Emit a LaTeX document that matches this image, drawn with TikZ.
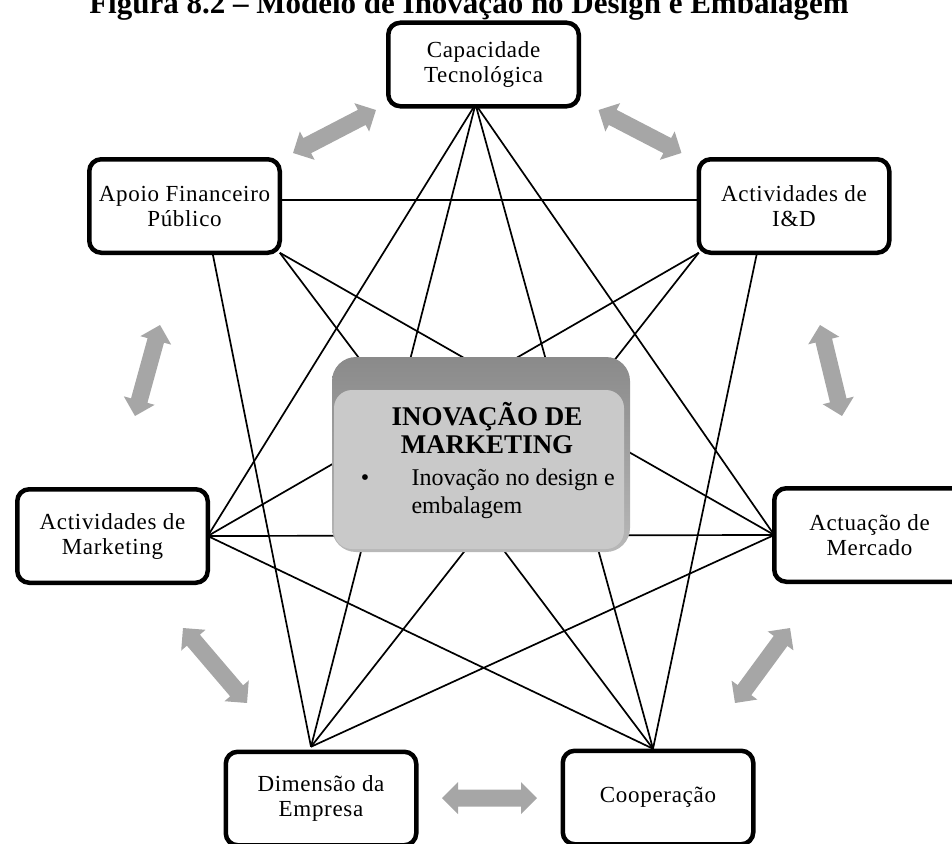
\documentclass[tikz,border=0pt]{standalone}
\usepackage{fontspec}
\setmainfont{Liberation Serif}
\newfontfamily\boxfont[LetterSpace=3]{Liberation Serif}
\usetikzlibrary{calc}
\pgfdeclarelayer{bg}
\pgfsetlayers{bg,main}
\definecolor{arrowgray}{HTML}{A6A6A6}
\definecolor{hubtop}{HTML}{8A8A8A}
\definecolor{hubbottom}{HTML}{B8B8B8}
\definecolor{hubface}{HTML}{C9C9C9}
\begin{document}
\begin{tikzpicture}[x=1pt,y=-1pt,
  factor/.style={draw=black, line width=4.5pt, rounded corners=12pt, fill=white,
    minimum width=190.5pt, minimum height=93.5pt, align=center, inner sep=0pt,
    outer sep=0pt, font=\boxfont\fontsize{23}{25}\selectfont},
  link/.style={draw=black, line width=1.7pt},
  pics/twoway/.style={code={
    \fill[arrowgray] (-#1,0) -- (-#1+16,-16) -- (-#1+16,-8.5) -- (#1-16,-8.5)
      -- (#1-16,-16) -- (#1,0) -- (#1-16,16) -- (#1-16,8.5) -- (-#1+16,8.5)
      -- (-#1+16,16) -- cycle;}}
]
\useasboundingbox (0,0) rectangle (952,843);
\clip (0,0) rectangle (952,843);

% caption, partly above the page
\node[anchor=base, font=\bfseries\fontsize{31}{31}\selectfont] (caption) at (469,14)
  {Figura 8.2 – Modelo de Inovação no Design e Embalagem};

% the seven factors
\node[factor, minimum height=83.5pt] (C) at (483.5,64.5) {\raisebox{4pt}{\shortstack{Capacidade\\[1pt]Tecnológica}}};
\node[factor] (A) at (184.5,206) {Apoio Financeiro\\Público};
\node[factor] (I) at (794,206)   {Actividades de\\I\&D};
\node[factor] (M) at (112.5,536) {Actividades de\\Marketing};
\node[factor] (R) at (869.5,535) {Actuação de\\Mercado};
\node[factor] (D) at (321,798.5) {Dimensão da\\Empresa};
\node[factor] (K) at (658,797.5) {Cooperação};

% attachment points of the links
\coordinate (Cb) at ([xshift=-8pt,yshift=2pt]C.south);
\coordinate (Ab) at ([xshift=28pt]A.south);
\coordinate (Ae) at ([yshift=6pt]A.east);
\coordinate (Ib) at ([xshift=-37pt]I.south);
\coordinate (Iw) at ([yshift=6pt]I.west);
\coordinate (Dt) at ([xshift=-10pt,yshift=5pt]D.north);
\coordinate (Kt) at ([xshift=-5pt,yshift=2pt]K.north);

% links between the factors, behind everything else
\begin{pgfonlayer}{bg}
\draw[link] (Ae) -- (Iw);
\draw[link] (Cb) -- (M.east);
\draw[link] (Cb) -- (R.west);
\draw[link] (Cb) -- (Dt);
\draw[link] (Cb) -- (Kt);
\draw[link] (Ab) -- (Dt);
\draw[link] (A.south east) -- (R.west);
\draw[link] (A.south east) -- (Kt);
\draw[link] (I.south west) -- (M.east);
\draw[link] (I.south west) -- (Dt);
\draw[link] (Ib) -- (Kt);
\draw[link] (M.east) -- (R.west);
\draw[link] (M.east) -- (Kt);
\draw[link] (R.west) -- (Dt);
\end{pgfonlayer}

% central block
\node[rounded corners=24pt, top color=hubtop, bottom color=hubbottom,
  minimum width=298pt, minimum height=195pt, inner sep=0pt] (hub) at (481,454.5) {};
\node[rounded corners=18pt, fill=hubface, minimum width=290pt, minimum height=159pt,
  inner sep=0pt] (face) at (479,469.5) {};
\node[anchor=base, font=\bfseries\fontsize{27}{28}\selectfont] (hubtitleA) at (487,425) {INOVAÇÃO DE};
\node[anchor=base, font=\bfseries\fontsize{27}{28}\selectfont] (hubtitleB) at (487,453) {MARKETING};
\node[anchor=base, font=\fontsize{24}{28}\selectfont] (bullet) at (365,485) {\textbullet};
\node[anchor=base west, font=\fontsize{24}{28}\selectfont] (itemA) at (408,485) {Inovação no design e};
\node[anchor=base west, font=\fontsize{24}{28}\selectfont] (itemB) at (408,513) {embalagem};

% grey two-way arrows between neighbouring factors
\pic[rotate=27.4]  at (334.5,131.5) {twoway=46.7};
\pic[rotate=-27.4] at (640,131.5)   {twoway=46.7};
\pic[rotate=74.6]  at (147.5,370.5) {twoway=47.2};
\pic[rotate=-76.4] at (831,370.5)   {twoway=46.8};
\pic[rotate=-49.5] at (215,665.5)   {twoway=49.3};
\pic[rotate=53.7]  at (762.5,665.5) {twoway=46.5};
\pic at (489.5,798) {twoway=47.5};
\end{tikzpicture}
\end{document}
